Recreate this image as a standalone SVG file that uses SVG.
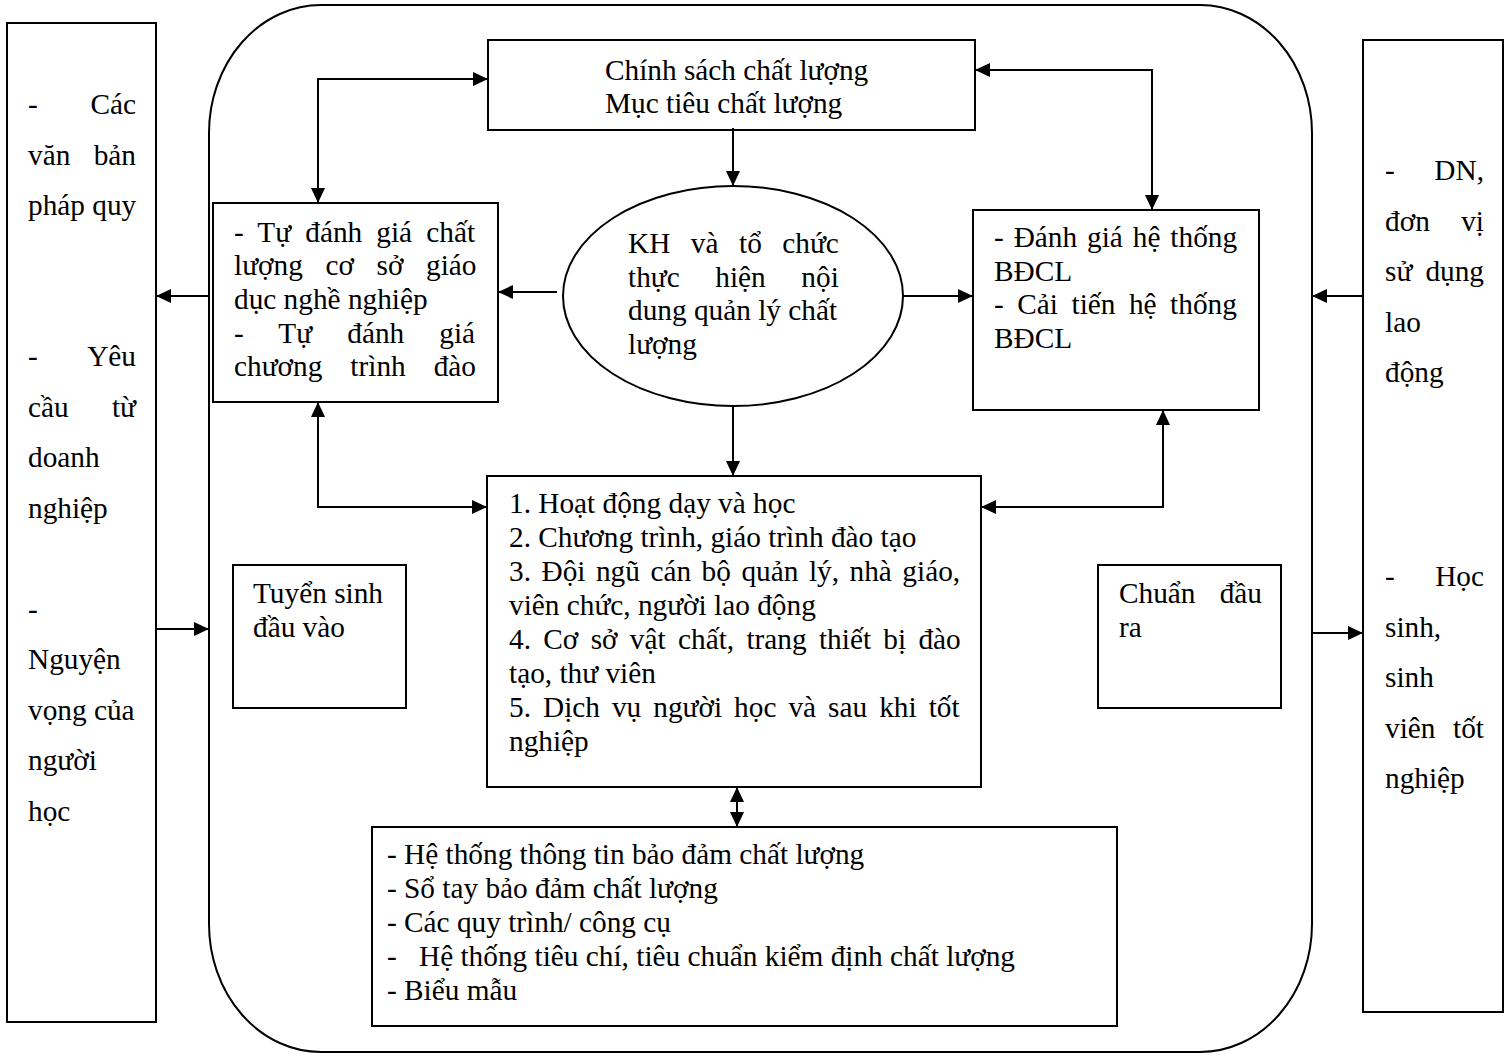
<svg xmlns="http://www.w3.org/2000/svg" width="1507" height="1057" viewBox="0 0 1507 1057">
  <style>
    .box { fill: #fff; stroke: #000; stroke-width: 2; }
    .frame { fill: none; stroke: #000; stroke-width: 2; }
    .t { font-family: "Liberation Serif", "Times New Roman", serif; font-size: 29.3px; fill: #000; }
    .e { text-anchor: end; }
    .link { fill: none; stroke: #000; stroke-width: 2; }
    .one { marker-end: url(#ah); }
    .two { marker-start: url(#ah); marker-end: url(#ah); }
  </style>
  <defs>
    <marker id="ah" viewBox="0 0 15 14" refX="15" refY="7" markerWidth="15" markerHeight="14" markerUnits="userSpaceOnUse" orient="auto-start-reverse">
      <path d="M0,0 L15,7 L0,14 z" fill="#000"/>
    </marker>
  </defs>

  <rect width="1507" height="1057" fill="#fff"/>

  <!-- outer system boundary -->
  <g id="system-frame">
    <rect class="frame" x="209" y="5" width="1103" height="1047" rx="112" ry="128"/>
  </g>

  <!-- inputs column -->
  <g id="inputs">
    <rect class="box" x="7" y="23" width="149" height="999"/>
    <text class="t" x="28" y="114">-</text>
    <text class="t e" x="136" y="114">Các</text>
    <text class="t" x="28" y="164.5">văn</text>
    <text class="t e" x="136" y="164.5">bản</text>
    <text class="t" x="28" y="215">pháp quy</text>
    <text class="t" x="28" y="366">-</text>
    <text class="t e" x="136" y="366">Yêu</text>
    <text class="t" x="28" y="416.5">cầu</text>
    <text class="t e" x="136" y="416.5">từ</text>
    <text class="t" x="28" y="467">doanh</text>
    <text class="t" x="28" y="517.5">nghiệp</text>
    <text class="t" x="28" y="618.5">-</text>
    <text class="t" x="28" y="669">Nguyện</text>
    <text class="t" x="28" y="719.5">vọng của</text>
    <text class="t" x="28" y="770">người</text>
    <text class="t" x="28" y="820.5">học</text>
  </g>

  <!-- outputs column -->
  <g id="outputs">
    <rect class="box" x="1363" y="40" width="140" height="972"/>
    <text class="t" x="1385" y="180">-</text>
    <text class="t e" x="1484" y="180">DN,</text>
    <text class="t" x="1385" y="230.5">đơn</text>
    <text class="t e" x="1484" y="230.5">vị</text>
    <text class="t" x="1385" y="281">sử</text>
    <text class="t e" x="1484" y="281">dụng</text>
    <text class="t" x="1385" y="331.5">lao</text>
    <text class="t" x="1385" y="382">động</text>
    <text class="t" x="1385" y="586">-</text>
    <text class="t e" x="1484" y="586">Học</text>
    <text class="t" x="1385" y="636.5">sinh,</text>
    <text class="t" x="1385" y="687">sinh</text>
    <text class="t" x="1385" y="737.5">viên</text>
    <text class="t e" x="1484" y="737.5">tốt</text>
    <text class="t" x="1385" y="788">nghiệp</text>
  </g>

  <!-- quality policy -->
  <g id="policy">
    <rect class="box" x="488" y="40" width="487" height="90"/>
    <text class="t" x="605" y="80">Chính sách chất lượng</text>
    <text class="t" x="605" y="113">Mục tiêu chất lượng</text>
  </g>

  <!-- self assessment -->
  <g id="self-assessment">
    <rect class="box" x="213" y="203" width="285" height="199"/>
    <text class="t" x="234" y="241.5" word-spacing="6.8">- Tự đánh giá chất</text>
    <text class="t" x="234" y="275.2" word-spacing="15.3">lượng cơ sở giáo</text>
    <text class="t" x="234" y="308.9">dục nghề nghiệp</text>
    <text class="t" x="234" y="342.6" word-spacing="27.8">- Tự đánh giá</text>
    <text class="t" x="234" y="376.3" word-spacing="20.7">chương trình đào</text>
  </g>

  <!-- planning ellipse -->
  <g id="planning">
    <ellipse class="box" cx="733" cy="296" rx="170" ry="110"/>
    <text class="t" x="628" y="253" word-spacing="13.2">KH và tổ chức</text>
    <text class="t" x="628" y="286.7" word-spacing="28.3">thực hiện nội</text>
    <text class="t" x="628" y="320.4">dung quản lý chất</text>
    <text class="t" x="628" y="354.1">lượng</text>
  </g>

  <!-- system evaluation -->
  <g id="evaluation">
    <rect class="box" x="973" y="210" width="286" height="200"/>
    <text class="t" x="994" y="247" word-spacing="2.6">- Đánh giá hệ thống</text>
    <text class="t" x="994" y="280.7">BĐCL</text>
    <text class="t" x="994" y="314.4" word-spacing="6.2">- Cải tiến hệ thống</text>
    <text class="t" x="994" y="348.1">BĐCL</text>
  </g>

  <!-- core activities -->
  <g id="activities">
    <rect class="box" x="487" y="476" width="494" height="311"/>
    <text class="t" x="509" y="513">1. Hoạt động dạy và học</text>
    <text class="t" x="509" y="547">2. Chương trình, giáo trình đào tạo</text>
    <text class="t" x="509" y="581" word-spacing="3.2">3. Đội ngũ cán bộ quản lý, nhà giáo,</text>
    <text class="t" x="509" y="615">viên chức, người lao động</text>
    <text class="t" x="509" y="649" word-spacing="5.0">4. Cơ sở vật chất, trang thiết bị đào</text>
    <text class="t" x="509" y="683">tạo, thư viên</text>
    <text class="t" x="509" y="717" word-spacing="4.7">5. Dịch vụ người học và sau khi tốt</text>
    <text class="t" x="509" y="751">nghiệp</text>
  </g>

  <!-- admissions -->
  <g id="admissions">
    <rect class="box" x="233" y="565" width="173" height="143"/>
    <text class="t" x="253" y="603">Tuyển sinh</text>
    <text class="t" x="253" y="637">đầu vào</text>
  </g>

  <!-- learning outcomes -->
  <g id="outcomes">
    <rect class="box" x="1098" y="565" width="183" height="143"/>
    <text class="t" x="1119" y="603">Chuẩn</text>
    <text class="t e" x="1262" y="603">đầu</text>
    <text class="t" x="1119" y="637">ra</text>
  </g>

  <!-- quality assurance tools -->
  <g id="qa-tools">
    <rect class="box" x="372" y="827" width="745" height="199"/>
    <text class="t" x="387" y="864">- Hệ thống thông tin bảo đảm chất lượng</text>
    <text class="t" x="387" y="898">- Sổ tay bảo đảm chất lượng</text>
    <text class="t" x="387" y="932">- Các quy trình/ công cụ</text>
    <text class="t" x="387" y="966">-</text>
    <text class="t" x="419" y="966">Hệ thống tiêu chí, tiêu chuẩn kiểm định chất lượng</text>
    <text class="t" x="387" y="1000">- Biểu mẫu</text>
  </g>

  <!-- connectors -->
  <g id="connectors">
    <path class="link two" d="M318,203 L318,79 L488,79"/>
    <path class="link two" d="M975,70 L1152,70 L1152,210"/>
    <path class="link one" d="M733,128 L733,186"/>
    <path class="link one" d="M557,292 L498,292"/>
    <path class="link one" d="M903,296 L973,296"/>
    <path class="link one" d="M733,406 L733,476"/>
    <path class="link two" d="M318,402 L318,507 L487,507"/>
    <path class="link two" d="M981,507 L1163,507 L1163,410"/>
    <path class="link two" d="M737,787 L737,827"/>
    <path class="link one" d="M209,296 L156,296"/>
    <path class="link one" d="M156,629 L209,629"/>
    <path class="link one" d="M1363,296 L1312,296"/>
    <path class="link one" d="M1312,633 L1363,633"/>
  </g>
</svg>
